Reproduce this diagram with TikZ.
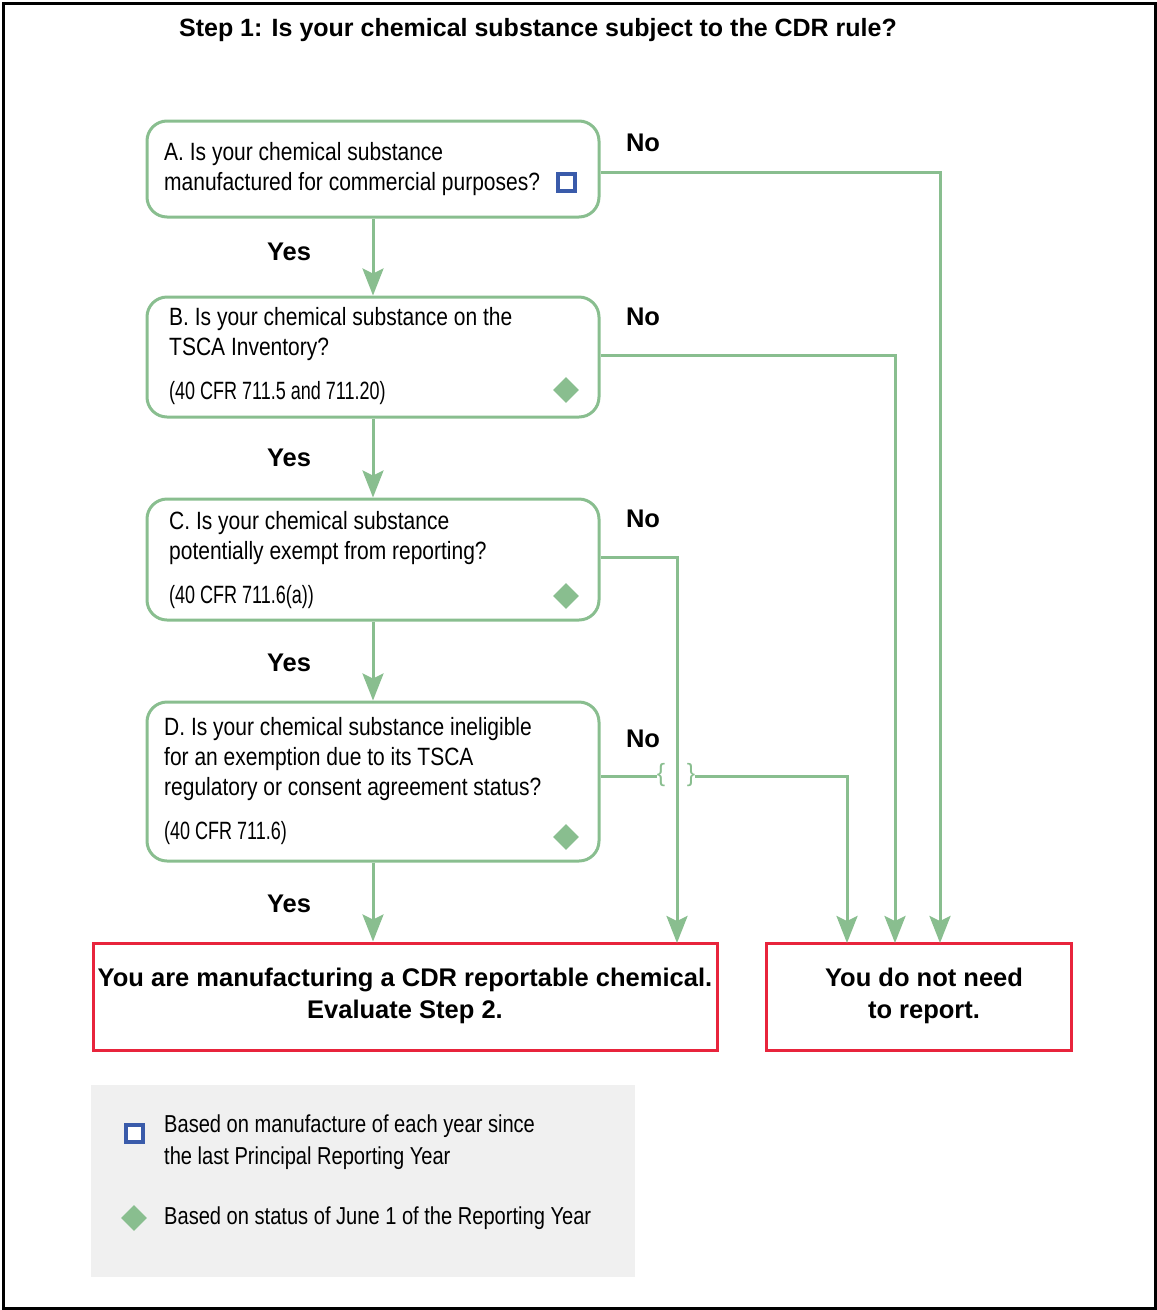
\documentclass[tikz,border=0pt]{standalone}
\usepackage{fontspec}
\setmainfont{Liberation Sans}
\newfontfamily\cond[FakeStretch=0.84]{Liberation Sans}
\newfontfamily\condc[FakeStretch=0.72]{Liberation Sans}
\newfontfamily\condl[FakeStretch=0.82]{Liberation Sans}
\usetikzlibrary{shapes.geometric,arrows.meta}
\definecolor{gr}{RGB}{137,190,143}
\definecolor{rd}{RGB}{232,36,60}
\definecolor{bl}{RGB}{58,91,170}
\definecolor{lg}{RGB}{240,240,240}
\tikzset{
  qbox/.style={draw=gr, line width=3pt, rounded corners=20pt, minimum width=452pt, inner sep=0pt},
  rbox/.style={draw=rd, line width=3pt, minimum height=107pt, inner sep=0pt},
  qtxt/.style={anchor=west, inner sep=0pt, font=\cond\fontsize{25}{30}\selectfont, align=left},
  ctxt/.style={anchor=west, inner sep=0pt, font=\condc\fontsize{25}{30}\selectfont, align=left},
  ltxt/.style={anchor=west, inner sep=0pt, font=\condl\fontsize{24.5}{32}\selectfont, align=left},
  btxt/.style={inner sep=0pt, font=\bfseries\fontsize{25.5}{32}\selectfont},
  ttxt/.style={inner sep=0pt, font=\bfseries\fontsize{25}{32}\selectfont},
  rtxt/.style={inner sep=0pt, font=\bfseries\fontsize{25.5}{32}\selectfont, align=center},
  arr/.style={draw=gr, line width=3pt, -{Stealth[width=21pt,length=27pt,inset=5pt]}},
  ln/.style={draw=gr, line width=3pt},
  dia/.style={diamond, fill=gr, minimum size=26pt, inner sep=0pt},
  sq/.style={draw=bl, line width=4pt, fill=white, minimum size=17pt, inner sep=0pt},
  brc/.style={inner sep=0pt, text=gr, font=\fontsize{25}{25}\selectfont},
}
\begin{document}
\begin{tikzpicture}[x=1pt,y=-1pt]
\useasboundingbox (0,0) rectangle (1157,1310);
\draw[line width=3pt] (3,3) rectangle (1155,1308);
\node[ttxt] (title) at (538,30) {Step 1: Is your chemical substance subject to the CDR rule?};

% question boxes
\node[qbox, minimum height=96pt] (A) at (373,169) {};
\node[qbox, minimum height=120pt] (B) at (373,357) {};
\node[qbox, minimum height=121pt] (C) at (373,559.5) {};
\node[qbox, minimum height=159pt] (D) at (373,781.5) {};

\node[qtxt] (tA) at (164,169) {A. Is your chemical substance\\manufactured for commercial purposes?};
\node[sq] (sqA) at (566,182) {};

\node[qtxt] (tB1) at (169,334) {B. Is your chemical substance on the\\TSCA Inventory?};
\node[ctxt] (tB2) at (169,393) {(40 CFR 711.5 and 711.20)};
\node[dia] (dB) at (566,390) {};

\node[qtxt] (tC1) at (169,538) {C. Is your chemical substance\\potentially exempt from reporting?};
\node[ctxt] (tC2) at (169,597) {(40 CFR 711.6(a))};
\node[dia] (dC) at (566,596) {};

\node[qtxt] (tD1) at (164,759) {D. Is your chemical substance ineligible\\for an exemption due to its TSCA\\regulatory or consent agreement status?};
\node[ctxt] (tD2) at (164,833) {(40 CFR 711.6)};
\node[dia] (dD) at (566,837) {};

% results
\node[rbox, minimum width=624pt] (R1) at (405,996.5) {};
\node[rtxt] (tR1) at (405,996) {You are manufacturing a CDR reportable chemical.\\Evaluate Step 2.};
\node[rbox, minimum width=305pt] (R2) at (918.5,996.5) {};
\node[rtxt] (tR2) at (924,996) {You do not need\\to report.};

% labels
\node[btxt] (y1) at (289,252) {Yes};
\node[btxt] (y2) at (289,458) {Yes};
\node[btxt] (y3) at (289,663) {Yes};
\node[btxt] (y4) at (289,904) {Yes};
\node[btxt] (n1) at (643,143) {No};
\node[btxt] (n2) at (643,317) {No};
\node[btxt] (n3) at (643,519) {No};
\node[btxt] (n4) at (643,739) {No};

% yes arrows
\draw[arr] (A.south) -- (B.north);
\draw[arr] (B.south) -- (C.north);
\draw[arr] (C.south) -- (D.north);
\draw[arr] (D.south) -- (D.south |- R1.north);

% no arrows
\coordinate (eA) at (940,943);
\coordinate (eB) at (895,943);
\coordinate (eC) at (677,943);
\coordinate (eD) at (847,943);
\draw[arr] ([yshift=-3pt]A.east) -| (eA);
\draw[arr] ([yshift=2pt]B.east) -| (eB);
\draw[arr] ([yshift=2.5pt]C.east) -| (eC);
\node[brc] (brl) at (661,775) {\{};
\node[brc] (brr) at (691,775) {\}};
\draw[ln] ([yshift=5.5pt]D.east) -- (brl.west |- 0,776);
\draw[arr] (brr.east |- 0,776) -| (eD);

% legend
\fill[lg] (91,1085) rectangle (635,1277);
\node[sq] (lsq) at (134,1133) {};
\node[ltxt] (ltx1) at (164,1142) {Based on manufacture of each year since\\the last Principal Reporting Year};
\node[dia] (ldia) at (134,1218) {};
\node[ltxt] (ltx2) at (164,1218) {Based on status of June 1 of the Reporting Year};
\end{tikzpicture}
\end{document}
